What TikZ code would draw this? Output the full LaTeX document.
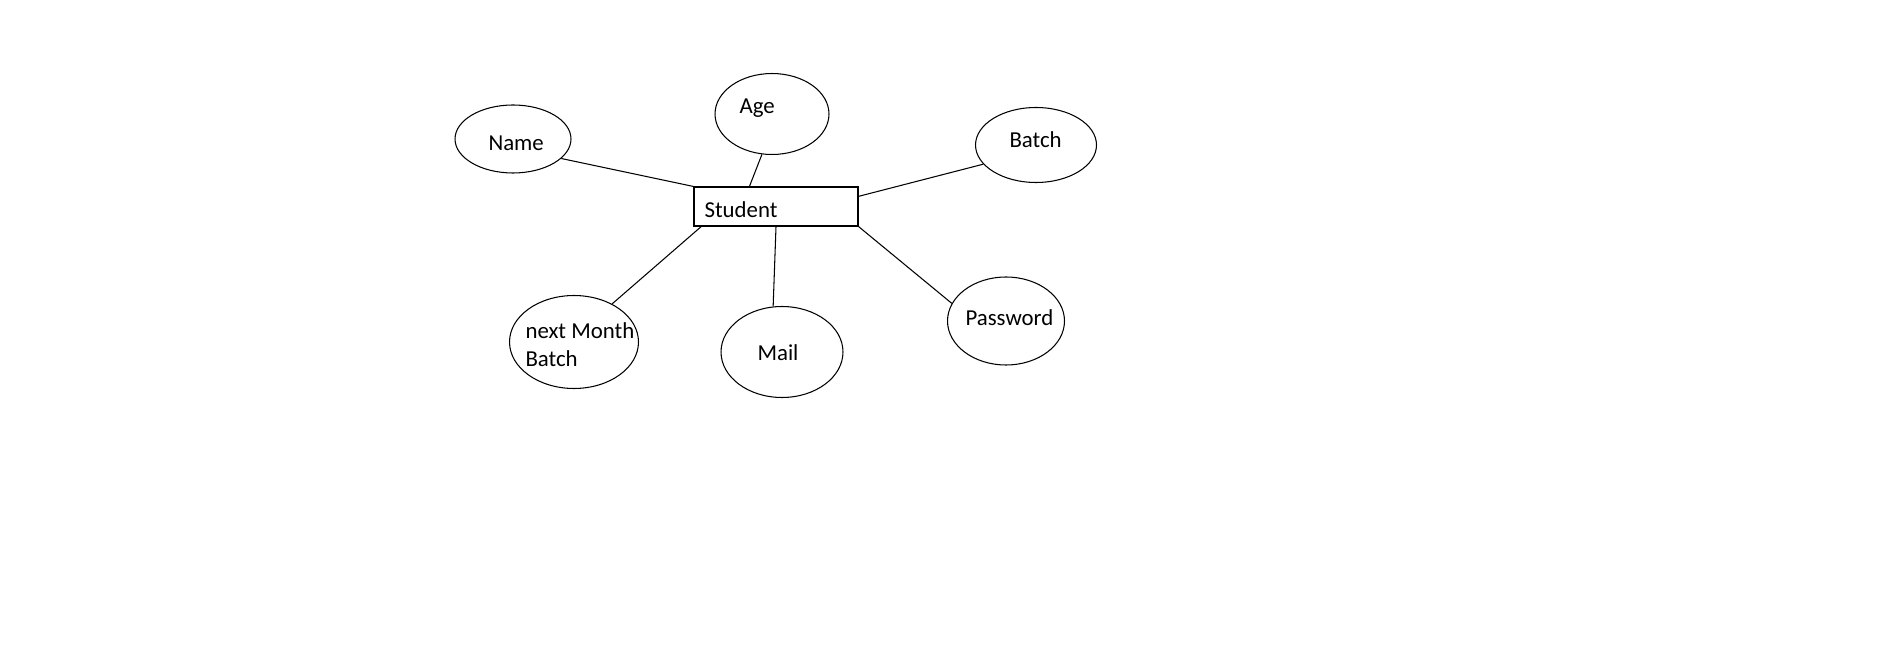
\documentclass[tikz,border=0pt]{standalone}
\usepackage{fontspec}
\setmainfont{Carlito}
\usetikzlibrary{shapes.geometric}

\begin{document}
\begin{tikzpicture}[x=.02cm, y=-.02cm, line width=.6pt,
  attr/.style={draw, ellipse, inner sep=0pt},
  lbl/.style={anchor=base west, inner sep=0pt, font=\fontsize{13}{16.5}\selectfont},
  ent/.style={draw, rectangle, minimum width=3.28cm, minimum height=.78cm, inner sep=0pt}]
\useasboundingbox (0,0) rectangle (1879,648);

\node[ent] (st) at (776,206.5) {};
\node[lbl] (sttxt) at (704,218) {Student};

\node[attr, minimum width=2.32cm, minimum height=1.36cm] (nm) at (513,139) {};
\node[lbl] (nmtxt) at (488,151) {Name};
\node[attr, minimum width=2.28cm, minimum height=1.62cm] (ag) at (772,114) {};
\node[lbl] (agtxt) at (739,114) {Age};
\node[attr, minimum width=2.42cm, minimum height=1.5cm] (bt) at (1036,145) {};
\node[lbl] (bttxt) at (1009,148) {Batch};

\node[attr, minimum width=2.58cm, minimum height=1.86cm] (nmb) at (574,342) {};
\node[lbl, align=left] (nmbtxt) at (525,367) {next Month\\Batch};
\node[attr, minimum width=2.44cm, minimum height=1.82cm] (ml) at (782,352) {};
\node[lbl] (mltxt) at (757,360) {Mail};
\node[attr, minimum width=2.34cm, minimum height=1.76cm] (pw) at (1006,321) {};
\node[lbl] (pwtxt) at (965,326) {Password};

\draw (nm.-22) -- (st.north west);
\draw (ag.-104) -- (st.143);
\draw (bt.200) -- (st.7);
\draw (nmb.45) -- (st.195);
\draw (ml.101) -- (st.south);
\draw (pw.162) -- (st.south east);
\end{tikzpicture}
\end{document}
